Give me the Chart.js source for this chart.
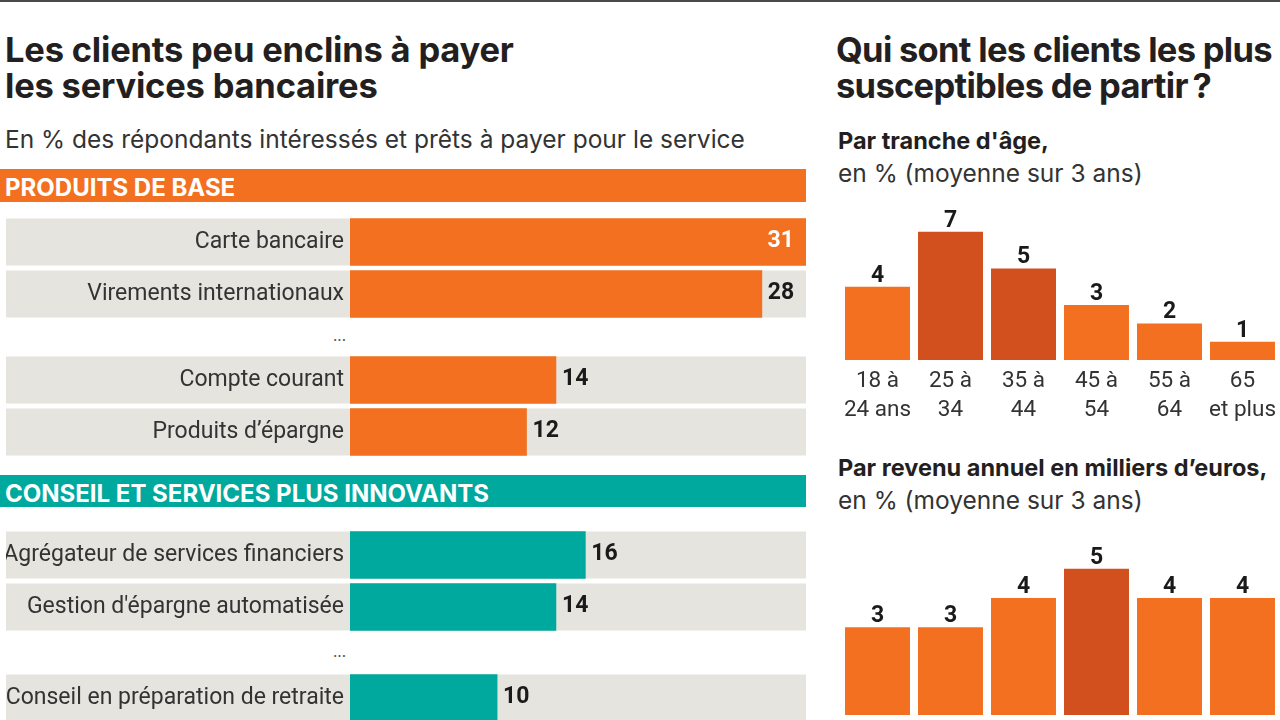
<!DOCTYPE html>
<html lang="fr">
<head>
<meta charset="utf-8">
<title>Les clients peu enclins à payer les services bancaires</title>
<script src="https://cdn.jsdelivr.net/npm/chart.js@4.4.1/dist/chart.umd.min.js"></script>
<style>
	html, body { margin: 0; padding: 0; }
	body {
		width: 1280px; height: 720px; overflow: hidden; position: relative;
		background: #fff; color: #231f20;
		font-family: Inter, Roboto, "Liberation Sans", sans-serif;
	}
	.topline { position: absolute; left: 0; top: 0; width: 1280px; height: 2px; background: #4a4a4a; }
	.title { position: absolute; font-weight: 700; font-size: 34.5px; line-height: 36px; white-space: nowrap; letter-spacing: -0.2px; }
	.sub { position: absolute; font-size: 24.5px; line-height: 28px; white-space: nowrap; color: #333; }
	.head { position: absolute; font-size: 24.5px; line-height: 33px; white-space: nowrap; color: #333; }
	.head b { color: #231f20; font-size: 23.5px; }
	.band {
		position: absolute; left: 0; width: 806px; height: 33px; overflow: hidden;
		color: #fff; font-weight: 700; font-size: 24px; line-height: 38px;
		padding-left: 5px; box-sizing: border-box; white-space: nowrap;
	}
	.dots { position: absolute; left: 300px; width: 46px; text-align: right; font-size: 15px; color: #555; }
	.box { position: absolute; }
</style>
</head>
<body>

<div class="topline"></div>

<div class="title" style="left:5px; top:32px;">Les clients peu enclins à payer<br>les services bancaires</div>
<div class="sub" style="left:5px; top:125px;">En % des répondants intéressés et prêts à payer pour le service</div>

<div class="band" style="top:169px; background:#f37021;">PRODUITS DE BASE</div>
<div class="box" style="left:0; top:216px; width:806px; height:104px;"><canvas id="baseTop"></canvas></div>
<div class="dots" style="top:326px;">...</div>
<div class="box" style="left:0; top:354px; width:806px; height:104px;"><canvas id="baseBottom"></canvas></div>

<div class="band" style="top:475px; height:32px; background:#00a99d;">CONSEIL ET SERVICES PLUS INNOVANTS</div>
<div class="box" style="left:0; top:529px; width:806px; height:104px;"><canvas id="innoTop"></canvas></div>
<div class="dots" style="top:642px;">...</div>
<div class="box" style="left:0; top:672px; width:806px; height:52px;"><canvas id="innoBottom"></canvas></div>

<div class="title" style="left:836px; top:32px; letter-spacing:-0.7px;">Qui sont les clients les plus<br>susceptibles de partir&#8239;?</div>
<div class="head" style="left:838px; top:124px;"><b>Par tranche d'âge,</b><br>en % (moyenne sur 3 ans)</div>
<div class="box" style="left:820px; top:200px; width:460px; height:230px;"><canvas id="ageChart"></canvas></div>

<div class="head" style="left:838px; top:451px;"><b>Par revenu annuel en milliers d’euros,</b><br>en % (moyenne sur 3 ans)</div>
<div class="box" style="left:820px; top:530px; width:460px; height:190px;"><canvas id="incomeChart"></canvas></div>

<script>
	'use strict';

	// Produits de base
	const baseTopLabels = ['Carte bancaire', 'Virements internationaux'];
	const baseTopValues = [31, 28];
	const baseBottomLabels = ['Compte courant', 'Produits d’épargne'];
	const baseBottomValues = [14, 12];

	// Conseil et services plus innovants
	const innoTopLabels = ['Agrégateur de services financiers', "Gestion d'épargne automatisée"];
	const innoTopValues = [16, 14];
	const innoBottomLabels = ['Conseil en préparation de retraite'];
	const innoBottomValues = [10];

	// Par tranche d'age
	const ageLabels = [['18 à', '24 ans'], ['25 à', '34'], ['35 à', '44'], ['45 à', '54'], ['55 à', '64'], ['65', 'et plus']];
	const ageValues = [4, 7, 5, 3, 2, 1];

	// Par revenu annuel (tranches coupées en bas de l'image)
	const incomeLabels = ['R1', 'R2', 'R3', 'R4', 'R5', 'R6'];
	const incomeValues = [3, 3, 4, 5, 4, 4];

	const ORANGE = '#f37021';
	const DARK_ORANGE = '#d1501e';
	const TEAL = '#00a99d';
	const ROW_GREY = '#e6e4de';
	const LABEL_FONT = 'Roboto, "Liberation Sans", sans-serif';

	/**
	 * Grey band behind each row, from the label edge to the chart's right side
	 */
	const rowBackground = {
		id: 'rowBackground',
		beforeDraw: function(chart) {
			const ctx = chart.ctx;
			const left = chart.scales.y.left;
			const right = chart.chartArea.right;
			ctx.save();
			ctx.fillStyle = ROW_GREY;
			chart.getDatasetMeta(0).data.forEach(function(bar) {
				const p = bar.getProps(['y', 'height'], true);
				ctx.fillRect(left, p.y - p.height / 2, right - left, p.height);
			});
			ctx.restore();
		}
	};

	/**
	 * Value labels: after the bar end (or inside it when there is no room), or above columns
	 */
	const valueLabels = {
		id: 'valueLabels',
		afterDatasetsDraw: function(chart) {
			const ctx = chart.ctx;
			const values = chart.data.datasets[0].data;
			const horizontal = chart.options.indexAxis === 'y';
			ctx.save();
			ctx.font = '700 23px ' + LABEL_FONT;
			chart.getDatasetMeta(0).data.forEach(function(bar, i) {
				const p = bar.getProps(['x', 'y'], true);
				const text = String(values[i]);
				if (horizontal) {
					const w = ctx.measureText(text).width;
					ctx.textBaseline = 'middle';
					if (p.x + 6 + w > chart.chartArea.right) {
						ctx.fillStyle = '#fff';
						ctx.textAlign = 'right';
						ctx.fillText(text, p.x - 12, p.y - 1);
					} else {
						ctx.fillStyle = '#1a1a1a';
						ctx.textAlign = 'left';
						ctx.fillText(text, p.x + 6, p.y - 1);
					}
				} else {
					ctx.fillStyle = '#1a1a1a';
					ctx.textAlign = 'center';
					ctx.textBaseline = 'alphabetic';
					ctx.fillText(text, p.x, p.y - 5);
				}
			});
			ctx.restore();
		}
	};

	/**
	 * Horizontal rows of the left panel
	 */
	function rowChart(id, labels, values, color) {
		return new Chart(document.getElementById(id), {
			type: 'bar',
			data: {
				labels: labels,
				datasets: [{
					data: values,
					backgroundColor: color,
					borderWidth: 0,
					barThickness: 47
				}]
			},
			options: {
				indexAxis: 'y',
				responsive: true,
				maintainAspectRatio: false,
				animation: false,
				devicePixelRatio: 1,
				layout: { padding: { left: 6, right: 0, top: 0, bottom: 0 } },
				plugins: {
					legend: { display: false },
					tooltip: { enabled: false }
				},
				scales: {
					x: { display: false, min: 0, max: 31 },
					y: {
						grid: { display: false, drawTicks: false },
						border: { display: false },
						ticks: {
							color: '#333',
							padding: 6,
							font: { family: LABEL_FONT, size: 23 }
						},
						afterFit: function(scale) {
							// fixed label column, no extra room above/below the rows
							scale.width = 344;
							scale.paddingTop = 0;
							scale.paddingBottom = 0;
						}
					}
				}
			},
			plugins: [rowBackground, valueLabels]
		});
	}

	/**
	 * Columns of the right panel
	 */
	function columnChart(id, labels, values, colors, yMax, showTicks) {
		return new Chart(document.getElementById(id), {
			type: 'bar',
			data: {
				labels: labels,
				datasets: [{
					data: values,
					backgroundColor: colors,
					borderWidth: 0,
					barPercentage: 0.89,
					categoryPercentage: 1
				}]
			},
			options: {
				responsive: true,
				maintainAspectRatio: false,
				animation: false,
				devicePixelRatio: 1,
				layout: { padding: { left: 21, right: 1, top: 0, bottom: showTicks ? 0 : 5 } },
				plugins: {
					legend: { display: false },
					tooltip: { enabled: false }
				},
				scales: {
					y: { display: false, min: 0, max: yMax },
					x: {
						display: showTicks,
						grid: { display: false, drawTicks: false },
						border: { display: false },
						ticks: {
							color: '#333',
							padding: 7,
							maxRotation: 0,
							autoSkip: false,
							font: { family: LABEL_FONT, size: 22.5, lineHeight: '29px' }
						},
						afterFit: function(scale) {
							scale.height = showTicks ? 70 : 0;
							scale.paddingLeft = 0;
							scale.paddingRight = 0;
						}
					}
				}
			},
			plugins: [valueLabels]
		});
	}

	rowChart('baseTop', baseTopLabels, baseTopValues, ORANGE);
	rowChart('baseBottom', baseBottomLabels, baseBottomValues, ORANGE);
	rowChart('innoTop', innoTopLabels, innoTopValues, TEAL);
	rowChart('innoBottom', innoBottomLabels, innoBottomValues, TEAL);

	columnChart('ageChart', ageLabels, ageValues,
		[ORANGE, DARK_ORANGE, DARK_ORANGE, ORANGE, ORANGE, ORANGE], 8.74, true);
	columnChart('incomeChart', incomeLabels, incomeValues,
		[ORANGE, ORANGE, ORANGE, DARK_ORANGE, ORANGE, ORANGE], 6.32, false);
</script>
</body>
</html>
